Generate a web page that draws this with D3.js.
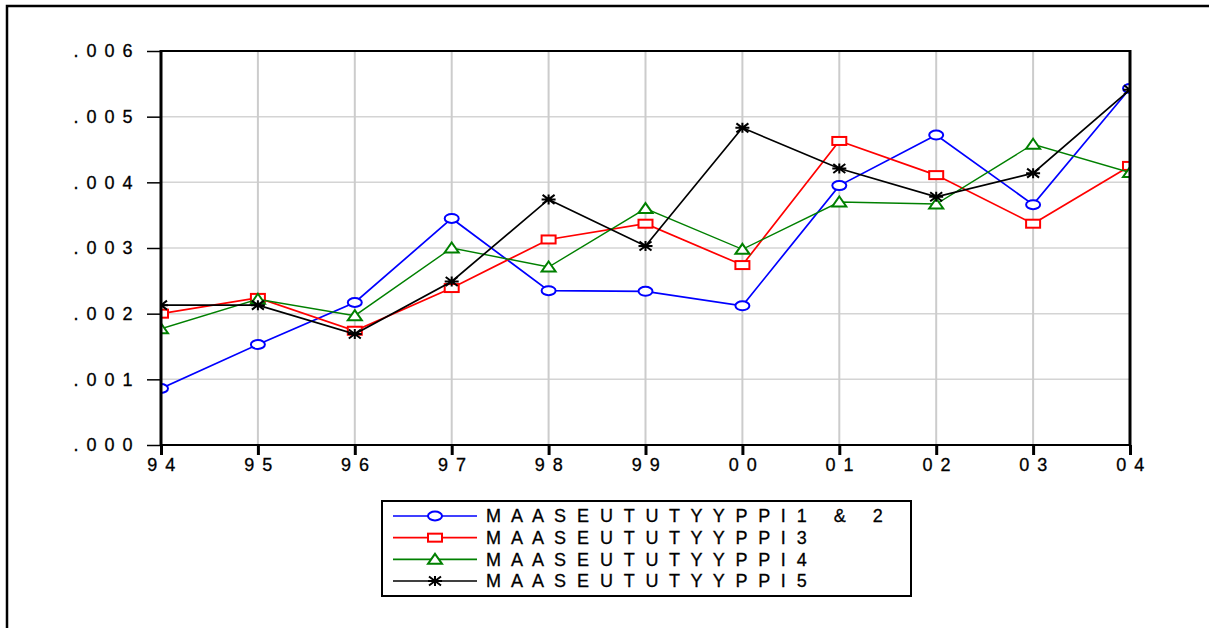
<!DOCTYPE html>
<html>
<head>
<meta charset="utf-8">
<script src="https://cdn.jsdelivr.net/npm/d3@7"></script>
<style>
  body { margin: 0; background: #fff; }
  svg { display: block; }
  text { stroke: #000; stroke-width: 0.3px; }
</style>
</head>
<body>
<div id="chart"></div>
<script>
// data
var years = ["94", "95", "96", "97", "98", "99", "00", "01", "02", "03", "04"];
var yTicks = [0, 0.001, 0.002, 0.003, 0.004, 0.005, 0.006];
var seriesNames = ["MAASEUTUTYYPPI1 & 2", "MAASEUTUTYYPPI3", "MAASEUTUTYYPPI4", "MAASEUTUTYYPPI5"];
var type12 = [0.00086, 0.00153, 0.00217, 0.00345, 0.00235, 0.00234, 0.00212, 0.00395, 0.00472, 0.00366, 0.00543];
var type3  = [0.00200, 0.00224, 0.00174, 0.00239, 0.00313, 0.00337, 0.00274, 0.00463, 0.00411, 0.00337, 0.00425];
var type4  = [0.00177, 0.00222, 0.00197, 0.00300, 0.00271, 0.00360, 0.00298, 0.00370, 0.00367, 0.00458, 0.00415];
var type5  = [0.00213, 0.00213, 0.00169, 0.00249, 0.00374, 0.00303, 0.00483, 0.00421, 0.00378, 0.00414, 0.00541];

var colors = ["#0000ff", "#ff0000", "#008000", "#000000"];
var shapes = ["circle", "square", "triangle", "star"];
var allSeries = [type12, type3, type4, type5];

var width = 1209, height = 628;
var plot = { left: 161, right: 1130, top: 51, bottom: 445 };
var fontFamily = "'Liberation Sans', Arial, sans-serif";

var svg = d3.select("#chart").append("svg")
    .attr("width", width)
    .attr("height", height)
    .attr("font-family", fontFamily);

// outer frame (only left and top edges fall inside the picture)
svg.append("rect")
    .attr("x", 7).attr("y", 6)
    .attr("width", 1260).attr("height", 700)
    .attr("fill", "none")
    .attr("stroke", "#000")
    .attr("stroke-width", 2.5);

var xScale = d3.scalePoint()
    .domain(years)
    .range([plot.left, plot.right]);
var yScale = d3.scaleLinear()
    .domain([0, 0.006])
    .range([plot.bottom, plot.top]);

// spaced out digits like ". 0 0 6"
function spaced(s) { return s.split("").join(" "); }

// grid
svg.append("g").selectAll("line")
    .data(yTicks.slice(1, -1)).enter().append("line")
    .attr("x1", plot.left).attr("x2", plot.right)
    .attr("y1", d => yScale(d)).attr("y2", d => yScale(d))
    .attr("stroke", "#d4d4d4").attr("stroke-width", 1.5);
svg.append("g").selectAll("line")
    .data(years.slice(1, -1)).enter().append("line")
    .attr("x1", d => xScale(d)).attr("x2", d => xScale(d))
    .attr("y1", plot.top).attr("y2", plot.bottom)
    .attr("stroke", "#cccccc").attr("stroke-width", 2);

// axes
var yAxis = d3.axisLeft(yScale)
    .tickValues(yTicks)
    .tickSize(14)
    .tickPadding(13)
    .tickFormat(d => spaced(d3.format(".3f")(d).replace(/^0/, "")));
var yG = svg.append("g")
    .attr("transform", `translate(${plot.left},0)`)
    .call(yAxis)
    .attr("font-family", fontFamily)
    .attr("font-size", 18);
yG.select(".domain").remove();
yG.selectAll(".tick line").attr("stroke-width", 1.5);
yG.selectAll(".tick text").style("letter-spacing", "1.5px");

var xAxis = d3.axisBottom(xScale)
    .tickSize(10)
    .tickPadding(3)
    .tickFormat(d => spaced(d));
var xG = svg.append("g")
    .attr("transform", `translate(0,${plot.bottom})`)
    .call(xAxis)
    .attr("font-family", fontFamily)
    .attr("font-size", 18);
xG.select(".domain").remove();
xG.selectAll(".tick line").attr("stroke-width", 3);
xG.selectAll(".tick text").style("letter-spacing", "1.5px").attr("dx", 0.5);

// markers
function drawMarker(g, shape, color) {
    if (shape === "circle") {
        g.append("ellipse").attr("rx", 7).attr("ry", 4.5)
            .attr("fill", "#fff").attr("stroke", color).attr("stroke-width", 2);
    } else if (shape === "square") {
        g.append("rect").attr("x", -7).attr("y", -4).attr("width", 14).attr("height", 8)
            .attr("fill", "#fff").attr("stroke", color).attr("stroke-width", 2);
    } else if (shape === "triangle") {
        g.append("path").attr("d", "M0,-5.5L7,4.5L-7,4.5Z")
            .attr("fill", "#fff").attr("stroke", color).attr("stroke-width", 2);
    } else {
        g.append("path").attr("d", "M-7,0L7,0M0,-5L0,5M-6,-4.5L6,4.5M-6,4.5L6,-4.5")
            .attr("stroke", color).attr("stroke-width", 2);
    }
}

svg.append("clipPath").attr("id", "plotClip")
    .append("rect")
    .attr("x", plot.left).attr("y", plot.top)
    .attr("width", plot.right - plot.left).attr("height", plot.bottom - plot.top);

var lineGen = d3.line()
    .x((d, i) => xScale(years[i]))
    .y(d => yScale(d));

var dataG = svg.append("g")
    .attr("clip-path", "url(#plotClip)");

allSeries.forEach(function(values, s) {
    var g = dataG.append("g");
    g.append("path")
        .datum(values)
        .attr("d", lineGen)
        .attr("fill", "none")
        .attr("stroke", colors[s])
        .attr("stroke-width", s === 2 ? 1.4 : 1.7);
    g.selectAll(".mark")
        .data(values).enter().append("g")
        .attr("class", "mark")
        .attr("transform", (d, i) => `translate(${xScale(years[i])},${yScale(d)})`)
        .each(function() { drawMarker(d3.select(this), shapes[s], colors[s]); });
});

// plot frame, above the data
var frame = svg.append("g").attr("stroke", "#000");
frame.append("line").attr("x1", plot.left).attr("x2", plot.right)
    .attr("y1", plot.top).attr("y2", plot.top).attr("stroke-width", 2);
frame.append("line").attr("x1", plot.left).attr("x2", plot.right)
    .attr("y1", plot.bottom).attr("y2", plot.bottom).attr("stroke-width", 2);
frame.append("line").attr("x1", plot.left).attr("x2", plot.left)
    .attr("y1", plot.top - 1).attr("y2", plot.bottom + 1).attr("stroke-width", 3);
frame.append("line").attr("x1", plot.right).attr("x2", plot.right)
    .attr("y1", plot.top - 1).attr("y2", plot.bottom + 1).attr("stroke-width", 3);

// legend
var legend = svg.append("g").attr("font-size", 18);
legend.append("rect")
    .attr("x", 382).attr("y", 501)
    .attr("width", 529).attr("height", 95)
    .attr("fill", "#fff").attr("stroke", "#000").attr("stroke-width", 2);
var rowY = d3.scaleLinear().domain([0, 3]).range([516, 581]);
seriesNames.forEach(function(name, s) {
    var y = rowY(s);
    legend.append("line")
        .attr("x1", 393).attr("x2", 477)
        .attr("y1", y).attr("y2", y)
        .attr("stroke", colors[s]).attr("stroke-width", 1.7);
    drawMarker(legend.append("g").attr("transform", `translate(435,${y})`), shapes[s], colors[s]);
    legend.append("text")
        .attr("x", 486).attr("y", y)
        .attr("dy", "0.36em")
        .style("letter-spacing", "3px")
        .style("white-space", "pre")
        .text(name.replace(" & ", "&").split("").join(" ").replace("&", "  &  "));
});
</script>
</body>
</html>
